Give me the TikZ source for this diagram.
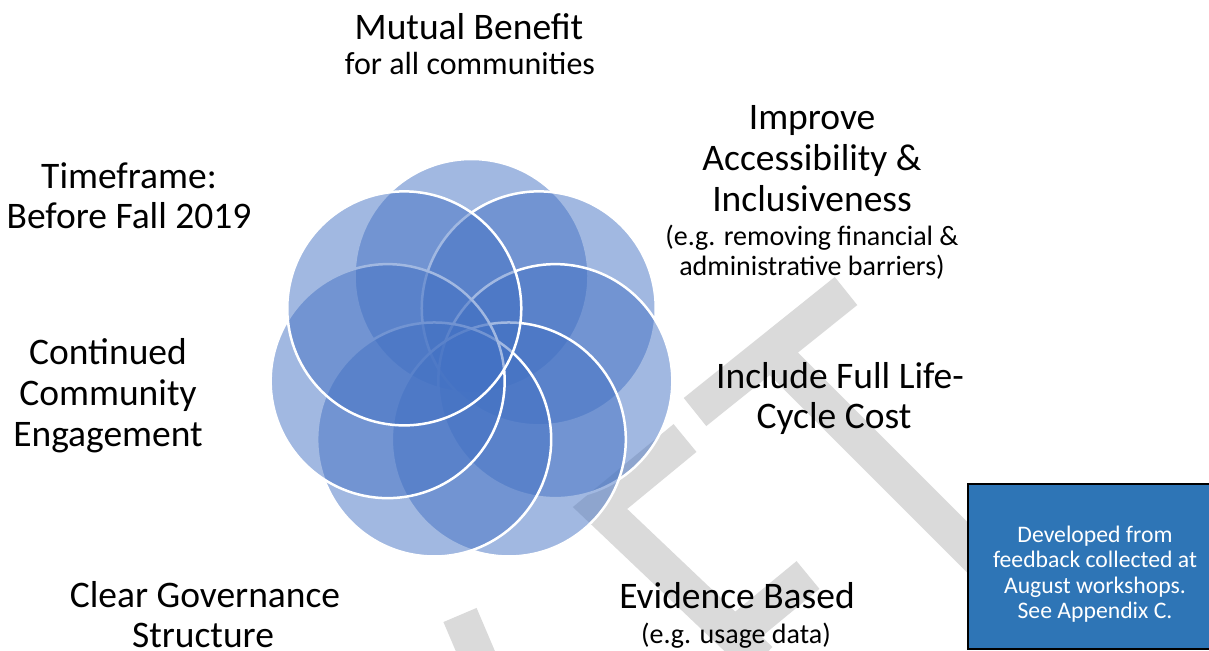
\documentclass[tikz,border=0pt]{standalone}
\usepackage{fontspec}
\setmainfont{Carlito}
\usetikzlibrary{calc}
\definecolor{petal}{HTML}{4472C4}
\definecolor{boxblue}{HTML}{2E75B6}
\definecolor{wmark}{HTML}{DADADA}
\begin{document}
\begin{tikzpicture}[x=1pt,y=-1pt,
  petalnode/.style={circle, minimum size=234pt, inner sep=0pt, outer sep=0pt,
    fill=petal, fill opacity=0.5, draw=white, draw opacity=1, line width=2.5pt},
  bigtxt/.style={font=\fontsize{37.5}{40}\selectfont, anchor=base, inner sep=0pt},
  midtxt/.style={font=\fontsize{32}{36}\selectfont, anchor=base, inner sep=0pt},
  subtxt/.style={font=\fontsize{28}{30}\selectfont, anchor=base, inner sep=0pt},
  boxtxt/.style={font=\fontsize{23.7}{25.5}\selectfont, anchor=base, inner sep=0pt, text=white},
  wmstroke/.style={draw=wmark, line width=36pt, line join=miter, line cap=butt}]
\useasboundingbox (0,0) rectangle (1209,650);
\fill[white] (0,0) rectangle (1209,650);
% watermark (behind)
\coordinate (tbA) at (695,412);
\coordinate (tbB) at (846,291);
\coordinate (tsA) at (771,351);
\coordinate (tsB) at (1000,580);
\coordinate (fbA) at (685,438);
\coordinate (fJ) at (600,508);
\coordinate (fsB) at (760,660);
\coordinate (fmA) at (734,636);
\coordinate (fmB) at (808,575);
\coordinate (aA) at (460,615);
\coordinate (aB) at (480,662);
\draw[wmstroke] (tbA) -- (tbB) (tsA) -- (tsB) (fbA) -- (fJ) -- (fsB) (fmA) -- (fmB) (aA) -- (aB);
% petals
\coordinate (ctr) at (471.5,362);
\foreach \k in {1,...,7}
  \node[petalnode] (c\k) at ($(ctr)+({-90+(\k-1)*360/7}:86)$) {};
% labels
\node[bigtxt] (mb1) at (469,40) {Mutual Benefit};
\node[midtxt] (mb2) at (470,75) {for all communities};
\node[bigtxt] (ia1) at (812,129) {Improve};
\node[bigtxt] (ia2) at (812,170) {Accessibility \&};
\node[bigtxt] (ia3) at (812,211) {Inclusiveness};
\node[subtxt] (ia4) at (812,245) {(e.g. removing financial \&};
\node[subtxt] (ia5) at (812,275) {administrative barriers)};
\node[bigtxt] (lc1) at (840,388) {Include Full Life-};
\node[bigtxt] (lc2) at (834,428) {Cycle Cost};
\node[bigtxt] (eb1) at (737,608) {Evidence Based};
\node[subtxt] (eb2) at (736,643) {(e.g. usage data)};
\node[bigtxt] (cg1) at (205,607) {Clear Governance};
\node[bigtxt] (cg2) at (203,647) {Structure};
\node[bigtxt] (ce1) at (108,364) {Continued};
\node[bigtxt] (ce2) at (108,405) {Community};
\node[bigtxt] (ce3) at (108,446) {Engagement};
\node[bigtxt] (tf1) at (129,188) {Timeframe:};
\node[bigtxt] (tf2) at (129,228) {Before Fall 2019};
% note box
\node[draw=black, line width=2pt, fill=boxblue, anchor=north west,
  minimum width=250pt, minimum height=165pt, inner sep=0pt] (note) at (967,483) {};
\node[boxtxt] (n1) at (1095,542) {Developed from};
\node[boxtxt] (n2) at (1095,567) {feedback collected at};
\node[boxtxt] (n3) at (1095,593) {August workshops.};
\node[boxtxt] (n4) at (1095,618) {See Appendix C.};
\end{tikzpicture}
\end{document}
